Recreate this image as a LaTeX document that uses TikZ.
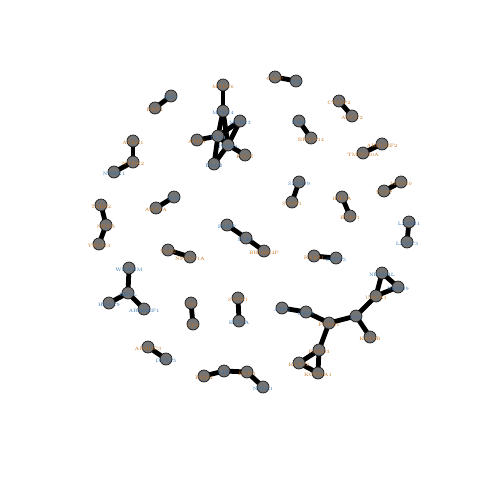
\documentclass[tikz,border=0pt]{standalone}
\usetikzlibrary{backgrounds}
\pgfdeclarelayer{foreground}
\pgfsetlayers{background,main,foreground}
\definecolor{nodegray}{HTML}{747474}
\definecolor{lorange}{HTML}{C8701C}
\definecolor{lblue}{HTML}{2F72B4}
\tikzset{
  gn/.style={circle,draw=black!90,line width=0.7pt,fill=nodegray,minimum size=12pt,inner sep=0pt},
  ed/.style={line width=4.8pt,black},
  lo/.style={font=\fontsize{4.8}{5.5}\selectfont,text=lorange,inner sep=0pt},
  lb/.style={font=\fontsize{4.8}{5.5}\selectfont,text=lblue,inner sep=0pt},
}
\newcommand{\gnode}[5]{\node[gn] (#1) at (#2,#3) {};
  \begin{pgfonlayer}{foreground}\node[#4] (#1l) at ([yshift=-1.5pt]#1.center) {#5};\end{pgfonlayer}}
\begin{document}
\begin{tikzpicture}[x=1pt,y=-1pt]
\useasboundingbox (0,0) rectangle (480,480);
% top central cluster
\gnode{a1}{223}{85}{lo}{MYO16}
\gnode{a2}{223}{111}{lb}{MYH14}
\gnode{a3}{240}{121}{lb}{MYH13}
\gnode{a4}{197}{140}{lo}{ATRN}
\gnode{a5}{218}{136}{lb}{TLN1}
\gnode{a6}{228}{145}{lb}{ITGB1}
\gnode{a7}{245}{155}{lo}{FSCN}
\gnode{a8}{214}{164}{lb}{DLG2}
% pairs
\gnode{b1}{171}{96}{lb}{IRF1}
\gnode{b2}{155}{108}{lo}{BRF1}
\gnode{c1}{275}{77}{lo}{CASP}
\gnode{c2}{296}{81}{lb}{JUP}
\gnode{d1}{339}{101}{lo}{CYFIP2}
\gnode{d2}{352}{116}{lo}{ABCC2}
\gnode{e1}{299}{121}{lb}{RHO}
\gnode{e2}{311}{138}{lo}{BRWD14}
\gnode{f1}{382}{144}{lo}{ARHGEF2}
\gnode{f2}{363}{153}{lo}{TMEM30A}
\gnode{g1}{133}{141}{lo}{ATXN1}
\gnode{g2}{133}{162}{lo}{NTRK2}
\gnode{g3}{114}{172}{lb}{NTRK1}
\gnode{h1}{101}{205}{lo}{TSHZ2}
\gnode{h2}{106}{225}{lo}{NFYB}
\gnode{h3}{99}{244}{lo}{TENM3}
\gnode{i1}{174}{197}{lb}{NUP}
\gnode{i2}{156}{208}{lo}{AKT1A}
\gnode{j1}{168}{250}{lo}{TLE2}
\gnode{j2}{190}{257}{lo}{NFATC1A}
\gnode{k1}{227}{225}{lb}{RDBP}
\gnode{k2}{246}{238}{lb}{PLK1}
\gnode{k3}{264}{251}{lo}{BHLHE4P}
\gnode{l1}{299}{182}{lb}{SAMD9}
\gnode{l2}{292}{202}{lo}{SASH1}
\gnode{m1}{342}{197}{lo}{HIF1A}
\gnode{m2}{350}{216}{lo}{EPAS1}
\gnode{n1}{401}{182}{lo}{MYO10}
\gnode{n2}{384}{191}{lo}{TCF7}
\gnode{o1}{409}{222}{lb}{LAMB1}
\gnode{o2}{407}{242}{lb}{LAMC3}
\gnode{p1}{314}{256}{lo}{RAB31}
\gnode{p2}{336}{258}{lb}{SEPT5}
% bottom left cluster
\gnode{q1}{129}{268}{lb}{WHAMM}
\gnode{q2}{128}{293}{lb}{HEYL}
\gnode{q3}{109}{303}{lb}{HDAC9}
\gnode{q4}{144}{309}{lb}{ARHGEF1}
\gnode{r1}{191}{303}{lo}{SP4}
\gnode{r2}{193}{324}{lo}{SP3}
\gnode{s1}{238}{298}{lo}{SATB1}
\gnode{s2}{239}{321}{lb}{ETS1A}
\gnode{t1}{148}{347}{lo}{ARRDC3}
\gnode{t2}{166}{359}{lb}{DUSP5}
\gnode{u1}{204}{376}{lo}{BMP4}
\gnode{u2}{224}{371}{lb}{LIF}
\gnode{u3}{247}{372}{lo}{EGR3}
\gnode{u4}{263}{387}{lb}{NELL1}
% bottom right cluster
\gnode{v1}{282}{308}{lb}{ATF3}
\gnode{v2}{306}{312}{lb}{GEN1}
\gnode{v3}{329}{323}{lo}{FOXO1}
\gnode{v4}{356}{316}{lb}{JUN}
\gnode{v5}{370}{337}{lo}{KAT2B}
\gnode{v6}{376}{296}{lo}{UACA1}
\gnode{v7}{382}{273}{lb}{NEDD4L}
\gnode{v8}{398}{287}{lb}{NEDD9}
\gnode{v9}{319}{350}{lo}{PARD3}
\gnode{v10}{299}{363}{lo}{KCNJ2}
\gnode{v11}{318}{373}{lo}{KCNMA1}
\begin{pgfonlayer}{background}
\draw[ed] (a1.center)--(a2.center);
\draw[ed] (a2.center)--(a5.center);
\draw[ed] (a2.center)--(a6.center);
\draw[ed] (a3.center)--(a5.center);
\draw[ed] (a3.center)--(a6.center);
\draw[ed] (a4.center)--(a5.center);
\draw[ed] (a5.center)--(a6.center);
\draw[ed] (a6.center)--(a7.center);
\draw[ed] (a8.center)--(a5.center);
\draw[ed] (a8.center)--(a6.center);
\draw[ed] (b1.center)--(b2.center);
\draw[ed] (c1.center)--(c2.center);
\draw[ed] (d1.center)--(d2.center);
\draw[ed] (e1.center)--(e2.center);
\draw[ed] (f1.center)--(f2.center);
\draw[ed] (g1.center)--(g2.center);
\draw[ed] (g2.center)--(g3.center);
\draw[ed] (h1.center)--(h2.center);
\draw[ed] (h2.center)--(h3.center);
\draw[ed] (i1.center)--(i2.center);
\draw[ed] (j1.center)--(j2.center);
\draw[ed] (k1.center)--(k2.center);
\draw[ed] (k2.center)--(k3.center);
\draw[ed] (l1.center)--(l2.center);
\draw[ed] (m1.center)--(m2.center);
\draw[ed] (n1.center)--(n2.center);
\draw[ed] (o1.center)--(o2.center);
\draw[ed] (p1.center)--(p2.center);
\draw[ed] (q1.center)--(q2.center);
\draw[ed] (q2.center)--(q3.center);
\draw[ed] (q2.center)--(q4.center);
\draw[ed] (r1.center)--(r2.center);
\draw[ed] (s1.center)--(s2.center);
\draw[ed] (t1.center)--(t2.center);
\draw[ed] (u1.center)--(u2.center);
\draw[ed] (u2.center)--(u3.center);
\draw[ed] (u3.center)--(u4.center);
\draw[ed] (v1.center)--(v2.center);
\draw[ed] (v2.center)--(v3.center);
\draw[ed] (v3.center)--(v4.center);
\draw[ed] (v4.center)--(v5.center);
\draw[ed] (v4.center)--(v6.center);
\draw[ed] (v6.center)--(v7.center);
\draw[ed] (v6.center)--(v8.center);
\draw[ed] (v7.center)--(v8.center);
\draw[ed] (v3.center)--(v9.center);
\draw[ed] (v9.center)--(v10.center);
\draw[ed] (v9.center)--(v11.center);
\draw[ed] (v10.center)--(v11.center);
\end{pgfonlayer}
\end{tikzpicture}
\end{document}
